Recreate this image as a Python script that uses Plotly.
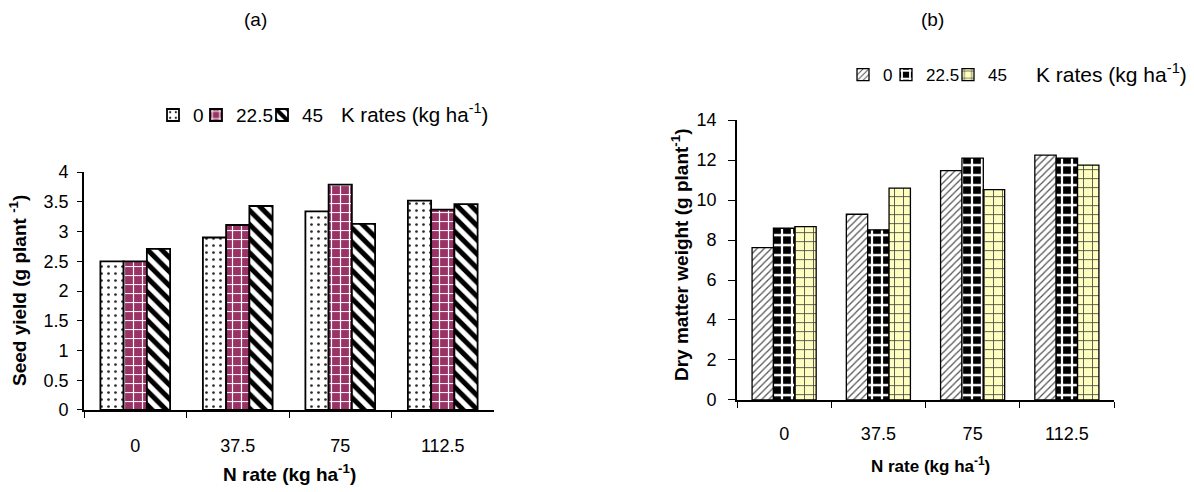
import plotly.graph_objects as go

n_rates = ["0", "37.5", "75", "112.5"]
k_rates = ["0", "22.5", "45"]

# (a) Seed yield (g plant-1)
seed_k0 = [2.50, 2.90, 3.34, 3.52]
seed_k225 = [2.50, 3.11, 3.79, 3.37]
seed_k45 = [2.71, 3.43, 3.13, 3.46]

# (b) Dry matter weight (g plant-1)
dm_k0 = [7.62, 9.29, 11.47, 12.25]
dm_k225 = [8.59, 8.51, 12.10, 12.10]
dm_k45 = [8.67, 10.60, 10.52, 11.75]

FONT = "Arial, Liberation Sans, sans-serif"
W, H = 1194, 492

# vertical placement helper (target pixel row -> layout row)
def py(y):
    return (y - 10.8) / 0.96

fig = go.Figure()

pat_a = [
    dict(shape=".", fgcolor="#222222", bgcolor="white", size=7, solidity=0.12, fillmode="replace"),
    dict(shape="+", fgcolor="white", bgcolor="#993366", size=9, solidity=0.25, fillmode="replace"),
    dict(shape="\\", fgcolor="black", bgcolor="white", size=10, solidity=0.5, fillmode="replace"),
]
pat_b = [
    dict(shape="/", fgcolor="#555555", bgcolor="white", size=5, solidity=0.25, fillmode="replace"),
    dict(shape="+", fgcolor="white", bgcolor="black", size=10, solidity=0.4, fillmode="replace"),
    dict(shape="+", fgcolor="#444444", bgcolor="#FFFFC0", size=9, solidity=0.18, fillmode="replace"),
]

legends_a = ["legend", "legend2", "legend3"]
legends_b = ["legend4", "legend5", "legend6"]

for name, vals, pat, lg in zip(k_rates, [seed_k0, seed_k225, seed_k45], pat_a, legends_a):
    fig.add_trace(go.Bar(
        x=n_rates, y=vals, name=name, xaxis="x", yaxis="y", legend=lg,
        marker=dict(color="white", pattern=pat, line=dict(color="black", width=1.8)),
    ))

for name, vals, pat, lg in zip(k_rates, [dm_k0, dm_k225, dm_k45], pat_b, legends_b):
    fig.add_trace(go.Bar(
        x=n_rates, y=vals, name=name, xaxis="x2", yaxis="y2", legend=lg,
        marker=dict(color="white", pattern=pat, line=dict(color="black", width=1.3)),
    ))

axis_common = dict(showline=True, linecolor="black", linewidth=1.6, showgrid=False,
                   zeroline=False, ticks="outside", tickcolor="black", tickwidth=1.3,
                   tickfont=dict(family=FONT, size=18, color="black"))

def legend_at(x_text, y, size=19):
    # text starts 40 px right of the legend's left edge
    return dict(x=(x_text - 40) / W, y=1 - py(y) / H, xanchor="left", yanchor="middle",
                font=dict(family=FONT, size=size, color="black"),
                bgcolor="rgba(0,0,0,0)", borderwidth=0, itemwidth=30)

fig.update_layout(
    width=W, height=H,
    margin=dict(l=0, r=0, t=0, b=0),
    paper_bgcolor="white", plot_bgcolor="white",
    barmode="group", bargap=0.32, bargroupgap=0,
    font=dict(family=FONT, color="black"),
    xaxis=dict(domain=[84/W, 494/W], anchor="y", tickson="boundaries",
               ticklen=6, ticklabelstandoff=19, **axis_common),
    yaxis=dict(domain=[(H - py(411))/H, (H - py(173))/H], anchor="x", range=[0, 4], dtick=0.5,
               ticklen=5, ticklabelstandoff=5, **axis_common),
    xaxis2=dict(domain=[737/W, 1114/W], anchor="y2", tickson="boundaries",
                ticklen=6, ticklabelstandoff=17, **axis_common),
    yaxis2=dict(domain=[(H - py(401))/H, (H - py(121))/H], anchor="x2", range=[0, 14], dtick=2,
                ticklen=7, ticklabelstandoff=8, **axis_common),
    legend=legend_at(193, 116),
    legend2=legend_at(236, 116),
    legend3=legend_at(302, 116),
    legend4=legend_at(883, 76, 17),
    legend5=legend_at(926, 76, 17),
    legend6=legend_at(988, 76, 17),
    showlegend=True,
)

def ann(text, x, y, size=16, bold=False, angle=0, xanchor="center"):
    fig.add_annotation(text=f"<b>{text}</b>" if bold else text, x=x/W, y=1 - py(y)/H,
                       xref="paper", yref="paper", showarrow=False, textangle=angle,
                       xanchor=xanchor, yanchor="middle",
                       font=dict(family=FONT, size=size, color="black"))

ann("(a)", 255, 20, size=19)
ann("(b)", 932, 20, size=19)
ann("K rates (kg ha<sup>-1</sup>)", 339, 114, size=20.5, xanchor="left")
ann("K rates (kg ha<sup>-1</sup>)", 1034, 74, size=21, xanchor="left")
ann("Seed yield (g plant <sup>-1</sup>)", 18, 292, size=19, bold=True, angle=-90)
ann("Dry matter weight (g plant<sup>-1</sup>)", 680, 255, size=19, bold=True, angle=-90)
ann("N rate (kg ha<sup>-1</sup>)", 289, 474, size=19, bold=True)
ann("N rate (kg ha<sup>-1</sup>)", 930, 466, size=17, bold=True)

fig.write_html("out.html", config={"displayModeBar": False},
               post_script="document.body.style.margin='0';")
